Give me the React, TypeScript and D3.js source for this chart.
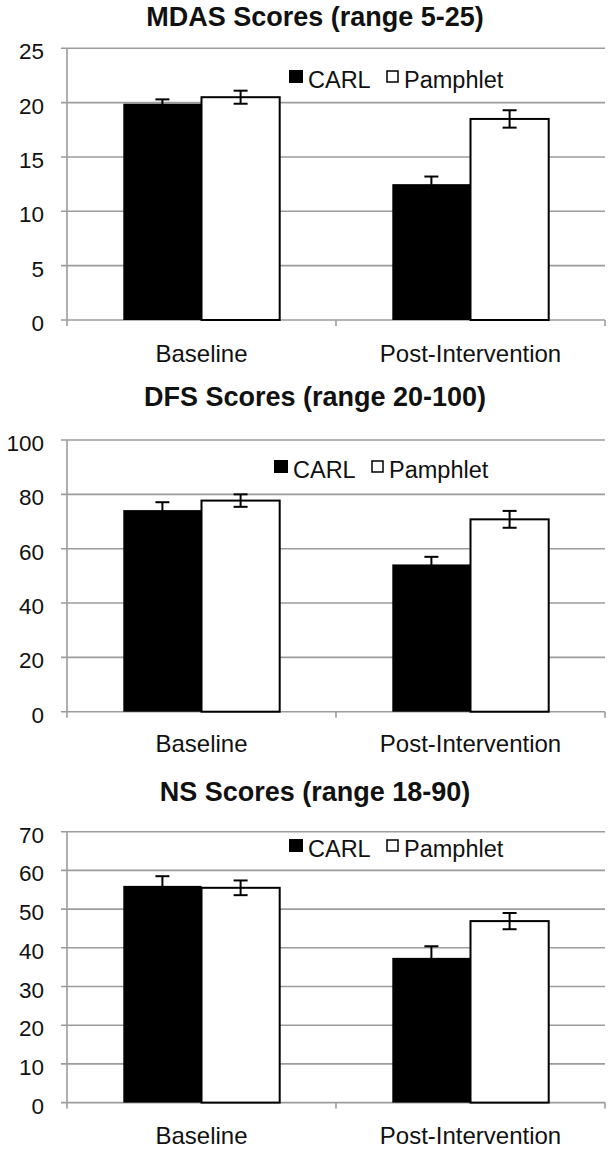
import React from "react";
import * as d3 from "d3";

const categories = ["Baseline", "Post-Intervention"];
const seriesNames = ["CARL", "Pamphlet"];

const mdasTitle = "MDAS Scores (range 5-25)";
const mdasCarl = [19.9, 12.5];
const mdasCarlErr = [0.4, 0.7];
const mdasPamphlet = [20.5, 18.5];
const mdasPamphletErr = [0.6, 0.8];
const mdasTicks = [0, 5, 10, 15, 20, 25];

const dfsTitle = "DFS Scores (range 20-100)";
const dfsCarl = [74.2, 54.2];
const dfsCarlErr = [2.9, 2.8];
const dfsPamphlet = [77.7, 70.8];
const dfsPamphletErr = [2.3, 3.1];
const dfsTicks = [0, 20, 40, 60, 80, 100];

const nsTitle = "NS Scores (range 18-90)";
const nsCarl = [56.0, 37.4];
const nsCarlErr = [2.5, 3.0];
const nsPamphlet = [55.5, 46.9];
const nsPamphletErr = [1.9, 2.1];
const nsTicks = [0, 10, 20, 30, 40, 50, 60, 70];

type Panel = {
  title: string;
  values: number[][];
  errors: number[][];
  ticks: number[];
  top: number;
  zero: number;
  titleY: number;
  legendY: number;
  legendX: number;
  labelY: number;
};

const panels: Panel[] = [
  { title: mdasTitle, values: [mdasCarl, mdasPamphlet], errors: [mdasCarlErr, mdasPamphletErr], ticks: mdasTicks, top: 48.3, zero: 320, titleY: 16.7, legendY: 80, legendX: 289, labelY: 353 },
  { title: dfsTitle, values: [dfsCarl, dfsPamphlet], errors: [dfsCarlErr, dfsPamphletErr], ticks: dfsTicks, top: 440, zero: 711.7, titleY: 396.7, legendY: 470, legendX: 274, labelY: 743 },
  { title: nsTitle, values: [nsCarl, nsPamphlet], errors: [nsCarlErr, nsPamphletErr], ticks: nsTicks, top: 831.7, zero: 1102.6, titleY: 791.7, legendY: 849, legendX: 289, labelY: 1135 },
];

const FONT = "'Liberation Sans', Arial, Helvetica, sans-serif";
const AXIS_X = 67;
const RIGHT_X = 605;
const GRID = "#9c9c9c";

function ChartPanel({ p }: { p: Panel }) {
  const maxV = p.ticks[p.ticks.length - 1];
  const y = d3.scaleLinear().domain([0, maxV]).range([p.zero, p.top]);
  const x0 = d3.scaleBand<string>().domain(categories).range([AXIS_X, RIGHT_X]).padding(0);
  const x1 = d3
    .scaleBand<string>()
    .domain(seriesNames)
    .range([0, x0.bandwidth()])
    .paddingInner(0)
    .paddingOuter(0.72);
  const bw = x1.bandwidth();
  const boundaries = [AXIS_X, ...categories.map((c) => (x0(c) as number) + x0.bandwidth())];
  return (
    <g>
      <text x={315} y={p.titleY + 0.36 * 27} textAnchor="middle" fontFamily={FONT} fontWeight="bold" fontSize={27} fill="#111">
        {p.title}
      </text>
      {p.ticks.map((t) => (
        <g key={t}>
          <line x1={AXIS_X - 6} x2={RIGHT_X} y1={y(t)} y2={y(t)} stroke={GRID} strokeWidth={1.6} />
          <text x={44} y={y(t) + 11} textAnchor="end" fontFamily={FONT} fontSize={22.5} fill="#111">
            {t}
          </text>
        </g>
      ))}
      <line x1={AXIS_X} x2={AXIS_X} y1={p.top} y2={p.zero + 6} stroke={GRID} strokeWidth={1.6} />
      {boundaries.slice(1).map((bx, i) => (
        <line key={i} x1={bx} x2={bx} y1={p.zero} y2={p.zero + 6} stroke={GRID} strokeWidth={1.6} />
      ))}
      {categories.map((c, ci) => (
        <g key={c}>
          {seriesNames.map((s, si) => {
            const v = p.values[si][ci];
            const e = p.errors[si][ci];
            const bx = (x0(c) as number) + (x1(s) as number);
            const cx = bx + bw / 2;
            return (
              <g key={s}>
                <rect
                  x={bx}
                  y={y(v)}
                  width={bw}
                  height={p.zero - y(v)}
                  fill={si === 0 ? "#000" : "#fff"}
                  stroke="#000"
                  strokeWidth={si === 0 ? 0 : 2}
                />
                <line x1={cx} x2={cx} y1={y(v + e)} y2={y(v - e)} stroke="#000" strokeWidth={2} />
                <line x1={cx - 7} x2={cx + 7} y1={y(v + e)} y2={y(v + e)} stroke="#000" strokeWidth={2} />
                <line x1={cx - 7} x2={cx + 7} y1={y(v - e)} y2={y(v - e)} stroke="#000" strokeWidth={2} />
              </g>
            );
          })}
          <text
            x={(x0(c) as number) + x0.bandwidth() / 2}
            y={p.labelY + 0.36 * 24}
            textAnchor="middle"
            fontFamily={FONT}
            fontSize={24}
            fill="#111"
          >
            {c}
          </text>
        </g>
      ))}
      <g>
        <rect x={p.legendX} y={p.legendY - 10} width={14} height={13} fill="#000" />
        <text x={p.legendX + 19} y={p.legendY + 8} fontFamily={FONT} fontSize={23.5} fill="#111">
          {seriesNames[0]}
        </text>
        <rect x={p.legendX + 98} y={p.legendY - 9} width={11} height={11} fill="#fff" stroke="#000" strokeWidth={1.5} />
        <text x={p.legendX + 115} y={p.legendY + 8} fontFamily={FONT} fontSize={23.5} fill="#111">
          {seriesNames[1]}
        </text>
      </g>
    </g>
  );
}

export default function App() {
  return (
    <svg width={610} height={1149} style={{ position: "absolute", left: 0, top: 0, background: "#fff" }}>
      <rect width={610} height={1149} fill="#fff" />
      {panels.map((p, i) => (
        <ChartPanel key={i} p={p} />
      ))}
    </svg>
  );
}
